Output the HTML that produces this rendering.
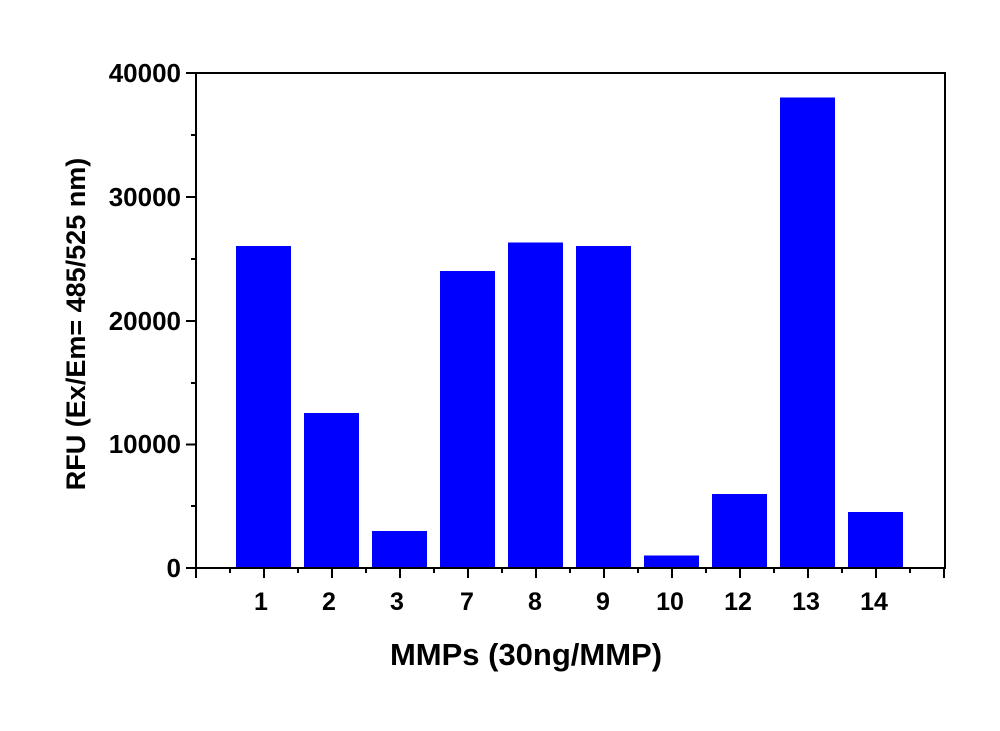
<!DOCTYPE html>
<html><head><style>body{margin:0;background:#fff}</style></head><body>
<svg width="1000" height="726" xmlns="http://www.w3.org/2000/svg" font-family="Liberation Sans, Arial, sans-serif" font-weight="bold">
<rect width="1000" height="726" fill="#fff"/>
<g fill="#0000ff">
<rect x="236" y="246" width="55" height="322"/>
<rect x="304" y="413" width="55" height="155"/>
<rect x="372" y="531" width="55" height="37"/>
<rect x="440" y="271" width="55" height="297"/>
<rect x="508" y="242.5" width="55" height="325.5"/>
<rect x="576" y="246" width="55" height="322"/>
<rect x="644" y="555.5" width="55" height="12.5"/>
<rect x="712" y="494" width="55" height="74"/>
<rect x="780" y="97.5" width="55" height="470.5"/>
<rect x="848" y="512" width="55" height="56"/>
</g>
<rect x="196" y="73" width="749" height="495" fill="none" stroke="#000" stroke-width="2"/>
<g stroke="#000" stroke-width="2">
<line x1="186" y1="73" x2="196" y2="73"/><line x1="186" y1="197" x2="196" y2="197"/><line x1="186" y1="321" x2="196" y2="321"/><line x1="186" y1="444.5" x2="196" y2="444.5"/><line x1="186" y1="568" x2="196" y2="568"/>
<line x1="191" y1="135" x2="196" y2="135"/><line x1="191" y1="259" x2="196" y2="259"/><line x1="191" y1="383" x2="196" y2="383"/><line x1="191" y1="506" x2="196" y2="506"/>
<line x1="196" y1="568" x2="196" y2="578"/><line x1="264" y1="568" x2="264" y2="578"/><line x1="332" y1="568" x2="332" y2="578"/><line x1="400" y1="568" x2="400" y2="578"/><line x1="468" y1="568" x2="468" y2="578"/><line x1="536" y1="568" x2="536" y2="578"/><line x1="604" y1="568" x2="604" y2="578"/><line x1="672" y1="568" x2="672" y2="578"/><line x1="740" y1="568" x2="740" y2="578"/><line x1="808" y1="568" x2="808" y2="578"/><line x1="876" y1="568" x2="876" y2="578"/><line x1="944" y1="568" x2="944" y2="578"/>
<line x1="230" y1="568" x2="230" y2="573"/><line x1="298" y1="568" x2="298" y2="573"/><line x1="366" y1="568" x2="366" y2="573"/><line x1="434" y1="568" x2="434" y2="573"/><line x1="502" y1="568" x2="502" y2="573"/><line x1="570" y1="568" x2="570" y2="573"/><line x1="638" y1="568" x2="638" y2="573"/><line x1="706" y1="568" x2="706" y2="573"/><line x1="774" y1="568" x2="774" y2="573"/><line x1="842" y1="568" x2="842" y2="573"/><line x1="910" y1="568" x2="910" y2="573"/>
</g>
<g font-size="26" text-anchor="end">
<text x="181" y="82">40000</text><text x="181" y="206">30000</text><text x="181" y="330">20000</text><text x="181" y="453">10000</text><text x="181" y="577">0</text>
</g>
<g font-size="25" text-anchor="middle">
<text x="261" y="610">1</text><text x="329" y="610">2</text><text x="397" y="610">3</text><text x="467" y="610">7</text><text x="535" y="610">8</text><text x="603" y="610">9</text><text x="670" y="610">10</text><text x="738" y="610">12</text><text x="806" y="610">13</text><text x="874" y="610">14</text>
</g>
<text x="526" y="665" font-size="31" text-anchor="middle">MMPs (30ng/MMP)</text>
<text transform="translate(85,324) rotate(-90)" font-size="27" text-anchor="middle">RFU (Ex/Em= 485/525 nm)</text>
</svg>
</body></html>
